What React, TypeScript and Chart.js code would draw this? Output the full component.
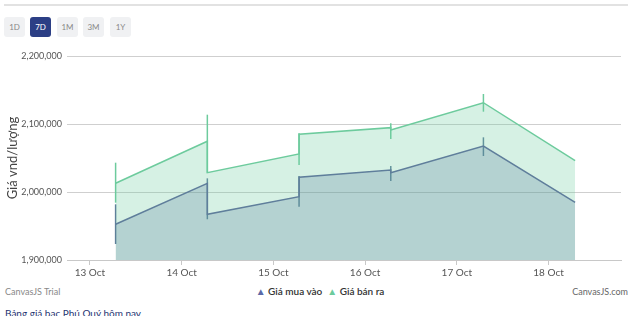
import React, { useEffect, useRef } from "react";
import { Chart, registerables } from "chart.js";

Chart.register(...registerables);

// x positions in days after 13 Oct 00:00
const DAY_LABELS = ["13 Oct", "14 Oct", "15 Oct", "16 Oct", "17 Oct", "18 Oct"];
const DAY_TICKS = [0, 1, 2, 3, 4, 5];
const POINT_X = [0.28, 1.28, 2.28, 3.28, 4.29, 5.29];
const X_MIN = -0.25;
const X_MAX = 5.79;

// Giá bán ra (sell)
const SELL_IN = [null, 2074600, 2055900, 2094600, 2131300, 2046000];
const SELL_OUT = [2012800, 2028400, 2084900, 2091200, 2131300, 2046000];
const SELL_HIGH = [2043100, 2113700, 2086300, 2101000, 2144100];
const SELL_LOW = [1984300, 2028400, 2039700, 2077900, 2118100];

// Giá mua vào (buy)
const BUY_IN = [null, 2012800, 1993100, 2032400, 2067600, 1984900];
const BUY_OUT = [1952500, 1967200, 2021600, 2028400, 2067600, 1984900];
const BUY_HIGH = [1981900, 2020100, 2023500, 2038200, 2080400];
const BUY_LOW = [1923500, 1959900, 1978400, 2016200, 2052900];

const Y_TICKS = [1900000, 2000000, 2100000, 2200000];

const GREEN = "#6dcb9d";
const GREEN_FILL = "rgba(109,203,157,0.28)";
const BLUE = "#5f7e9b";
const BLUE_FILL = "rgba(80,120,150,0.25)";

function seriesPoints(ins: (number | null)[], outs: number[]) {
  const pts: { x: number; y: number }[] = [];
  outs.forEach((o, i) => {
    const a = ins[i];
    if (a !== null && a !== o) pts.push({ x: POINT_X[i], y: a });
    pts.push({ x: POINT_X[i], y: o });
  });
  return pts;
}

function whiskers(high: number[], low: number[], color: string) {
  return high.map((h, i) => ({
    label: "_w",
    data: [
      { x: POINT_X[i], y: low[i] },
      { x: POINT_X[i], y: h },
    ],
    borderColor: color,
    borderWidth: 1.5,
    pointRadius: 0,
    fill: false,
  }));
}

export default function App() {
  const ref = useRef<HTMLCanvasElement | null>(null);

  useEffect(() => {
    if (!ref.current) return;
    const font = "Lato, 'Open Sans', sans-serif";
    const chart = new Chart(ref.current, {
      type: "line",
      data: {
        datasets: [
          {
            label: "Giá mua vào",
            data: seriesPoints(BUY_IN, BUY_OUT),
            borderColor: BLUE,
            backgroundColor: BLUE_FILL,
            borderWidth: 1.5,
            pointRadius: 0,
            fill: "start",
            tension: 0,
          },
          {
            label: "Giá bán ra",
            data: seriesPoints(SELL_IN, SELL_OUT),
            borderColor: GREEN,
            backgroundColor: GREEN_FILL,
            borderWidth: 1.5,
            pointRadius: 0,
            fill: "start",
            tension: 0,
          },
          ...whiskers(BUY_HIGH, BUY_LOW, BLUE),
          ...whiskers(SELL_HIGH, SELL_LOW, GREEN),
        ] as any,
      },
      options: {
        animation: false,
        responsive: false,
        maintainAspectRatio: false,
        layout: { padding: { left: 0, right: 19, top: 16, bottom: 0 } },
        plugins: {
          legend: { display: false },
          tooltip: { enabled: false },
        },
        scales: {
          x: {
            type: "linear",
            min: X_MIN,
            max: X_MAX,
            afterBuildTicks: (axis: any) => {
              axis.ticks = DAY_TICKS.map((v) => ({ value: v }));
            },
            afterFit: (axis: any) => {
              axis.height = 20;
            },
            ticks: {
              autoSkip: false,
              maxRotation: 0,
              padding: 2,
              color: "#555",
              font: { family: font, size: 10 },
              callback: (v: any) => DAY_LABELS[DAY_TICKS.indexOf(Number(v))] ?? "",
            },
            grid: {
              drawOnChartArea: false,
              drawTicks: true,
              tickLength: 5,
              color: "#c8c8c8",
            },
            border: { display: true, color: "#c8c8c8" },
          },
          y: {
            type: "linear",
            min: 1900000,
            max: 2200000,
            afterBuildTicks: (axis: any) => {
              axis.ticks = Y_TICKS.map((v) => ({ value: v }));
            },
            afterFit: (axis: any) => {
              axis.width = 67;
            },
            ticks: {
              padding: 5,
              color: "#555",
              font: { family: font, size: 9 },
              callback: (v: any) => Number(v).toLocaleString("en-US"),
            },
            grid: { drawTicks: false, color: "#cfcfcf", lineWidth: 1 },
            border: { display: false },
            title: {
              display: true,
              text: "Giá vnd/lượng",
              color: "#444",
              font: { family: font, size: 13 },
              padding: { top: 5, bottom: 0 },
            },
          },
        },
      },
    });
    return () => chart.destroy();
  }, []);

  const btn = (label: string, active: boolean, left: number) => (
    <div
      key={label}
      style={{
        position: "absolute",
        left,
        top: 17,
        width: 21,
        height: 20,
        borderRadius: 3,
        background: active ? "#2c3f85" : "#f0f1f3",
        color: active ? "#fff" : "#888",
        fontSize: 8,
        lineHeight: "20px",
        textAlign: "center",
        fontFamily: "Lato, sans-serif",
      }}
    >
      {label}
    </div>
  );

  return (
    <div
      style={{
        position: "fixed",
        left: 0,
        top: 0,
        width: 640,
        height: 316,
        overflow: "hidden",
        background: "#fff",
        fontFamily: "Lato, sans-serif",
      }}
    >
      <div style={{ position: "absolute", left: 4, top: 4, width: 624, height: 2, background: "#e2e2e2" }} />
      {btn("1D", false, 4)}
      {btn("7D", true, 30)}
      {btn("1M", false, 57)}
      {btn("3M", false, 83)}
      {btn("1Y", false, 110)}
      <canvas ref={ref} width={640} height={240} style={{ position: "absolute", left: 0, top: 40, width: 640, height: 240 }} />
      <div style={{ position: "absolute", left: 5, top: 286, fontSize: 9, color: "#888" }}>CanvasJS Trial</div>
      <div style={{ position: "absolute", right: 12, top: 286, fontSize: 9, color: "#666" }}>CanvasJS.com</div>
      <div
        style={{
          position: "absolute",
          left: 0,
          width: 640,
          top: 285,
          textAlign: "center",
          fontSize: 10,
          fontWeight: 600,
          color: "#333",
          whiteSpace: "nowrap",
        }}
      >
        <span style={{ color: "#5b6aa8", fontSize: 10 }}>▲</span> Giá mua vào&nbsp;&nbsp;
        <span style={{ color: "#6dcb9d", fontSize: 10 }}>▲</span> Giá bán ra
      </div>
      <div style={{ position: "absolute", left: 5, top: 307, fontSize: 10, color: "#1f3572" }}>
        Bảng giá bạc Phú Quý hôm nay
      </div>
    </div>
  );
}
